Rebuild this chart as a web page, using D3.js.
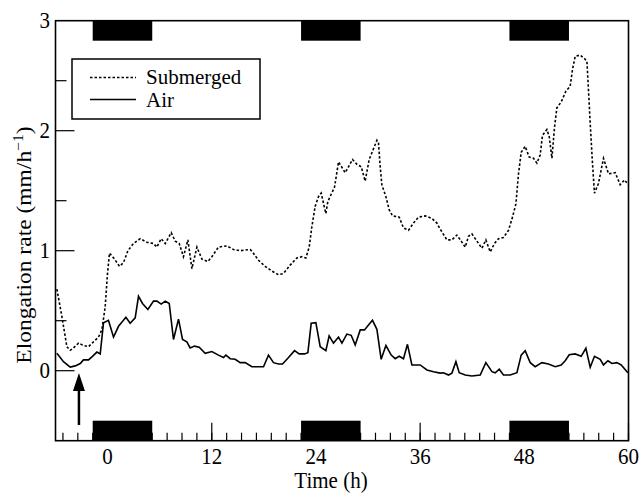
<!DOCTYPE html>
<html lang="en">
  <head>
    <meta charset="utf-8">
    <title>Elongation rate</title>
    <script src="https://d3js.org/d3.v7.min.js"></script>
    <style>
      body { margin: 0; background: white; }
      text { font-family: "Liberation Serif", "Times New Roman", serif; fill: black; }
    </style>
  </head>
  <body>
    <script>
      // time (h) and elongation rate (mm/h)
      const subTime = [-5.84, -5.26, -4.69, -4.31, -3.93, -3.35, -2.78, -2.2, -1.62, -1.05, -0.66, -0.28, -0.01, 0.22, 0.8, 1.37, 1.83, 2.34, 2.98, 3.76,
        4.53, 5.29, 5.68, 6.17, 6.64, 7.33, 7.79, 8.25, 8.74, 9.25, 9.71, 10.29, 10.86, 11.55, 12.01, 12.77, 13.74, 14.5, 15.27, 16.43,
        16.69, 17.38, 18.15, 18.92, 19.69, 20.26, 21.03, 21.8, 22.38, 22.84, 23.22, 23.53, 23.91, 24.29, 24.6, 25.14, 25.37, 26.14, 26.6, 27.37,
        28.21, 28.72, 29.21, 29.67, 30.13, 30.63, 31.02, 31.2, 31.4, 31.59, 32.06, 32.44, 32.82, 33.59, 34.08, 34.66, 35.23, 35.81, 36.58, 37.35,
        37.93, 38.31, 39.08, 39.66, 40.23, 40.73, 41.19, 41.57, 41.96, 42.54, 43.11, 43.57, 44.07, 44.56, 45.03, 45.6, 46.18, 46.64, 47.03, 47.33,
        47.64, 48.1, 48.56, 49.06, 49.45, 49.83, 50.09, 50.6, 50.87, 51.18, 51.48, 51.75, 52.25, 52.79, 53.28, 53.55, 53.86, 54.44, 54.93, 55.21,
        55.39, 55.59, 55.85, 56.08, 56.54, 57.12, 57.7, 58.47, 59.04, 59.54, 59.99];
      const subValues = [0.68, 0.45, 0.2, 0.17, 0.19, 0.23, 0.21, 0.2, 0.24, 0.28, 0.34, 0.53, 0.81, 0.98, 0.93, 0.87, 0.9, 1.0, 1.06, 1.1,
        1.07, 1.06, 1.03, 1.1, 1.06, 1.15, 1.08, 1.06, 0.95, 1.09, 0.85, 1.03, 0.93, 0.91, 0.95, 1.03, 1.04, 1.01, 1.0, 1.01,
        0.99, 0.92, 0.87, 0.83, 0.8, 0.81, 0.88, 0.94, 0.95, 0.94, 1.03, 1.2, 1.37, 1.45, 1.48, 1.31, 1.41, 1.53, 1.74, 1.65,
        1.76, 1.72, 1.7, 1.58, 1.76, 1.85, 1.92, 1.9, 1.7, 1.55, 1.45, 1.34, 1.29, 1.28, 1.19, 1.17, 1.23, 1.28, 1.29, 1.27,
        1.23, 1.18, 1.09, 1.09, 1.13, 1.08, 1.03, 1.12, 1.14, 1.08, 1.02, 1.09, 0.99, 1.06, 1.1, 1.11, 1.17, 1.28, 1.39, 1.64,
        1.82, 1.87, 1.78, 1.77, 1.73, 1.8, 1.96, 2.01, 1.95, 1.77, 2.03, 2.19, 2.24, 2.33, 2.37, 2.51, 2.62, 2.63, 2.6, 2.58,
        2.34, 2.06, 1.73, 1.48, 1.56, 1.77, 1.64, 1.65, 1.55, 1.59, 1.55];

      const airTime = [-5.84, -5.08, -4.31, -3.73, -3.15, -2.78, -2.2, -1.74, -1.23, -0.85, -0.47, 0.1, 0.68, 1.26, 2.11, 2.6, 3.18, 3.56, 4.02, 4.64,
        5.29, 5.68, 6.17, 6.64, 7.1, 7.59, 8.17, 8.63, 9.13, 9.51, 10.01, 10.55, 11.24, 12.01, 12.77, 13.35, 13.63, 14.12, 14.7, 15.27,
        15.85, 16.62, 17.96, 18.53, 19.11, 19.69, 20.15, 20.84, 21.53, 22.07, 22.68, 23.07, 23.45, 23.99, 24.49, 25.14, 25.52, 26.02, 26.6, 26.99,
        27.56, 28.06, 28.52, 29.1, 29.59, 30.05, 30.51, 31.02, 31.51, 32.06, 32.67, 33.13, 33.59, 34.08, 34.54, 35.05, 36.01, 36.78, 37.54, 38.31,
        38.69, 39.27, 39.66, 40.12, 40.5, 41.19, 41.96, 42.92, 43.57, 44.27, 44.65, 45.11, 45.6, 46.37, 47.15, 47.64, 48.1, 48.68, 49.25, 50.02,
        50.78, 51.56, 52.25, 52.71, 53.17, 53.86, 54.55, 55.09, 55.59, 56.08, 56.74, 57.12, 57.63, 58.09, 58.66, 59.16, 59.93];
      const airValues = [0.145, 0.075, 0.03, 0.04, 0.06, 0.09, 0.09, 0.12, 0.155, 0.14, 0.4, 0.42, 0.28, 0.37, 0.445, 0.395, 0.44, 0.62, 0.56, 0.51,
        0.58, 0.58, 0.555, 0.58, 0.56, 0.26, 0.43, 0.26, 0.24, 0.19, 0.205, 0.195, 0.145, 0.16, 0.13, 0.11, 0.13, 0.1, 0.095, 0.067,
        0.067, 0.033, 0.033, 0.13, 0.067, 0.056, 0.056, 0.11, 0.167, 0.14, 0.14, 0.15, 0.395, 0.4, 0.2, 0.167, 0.29, 0.23, 0.28, 0.23,
        0.305, 0.295, 0.215, 0.34, 0.34, 0.38, 0.42, 0.345, 0.095, 0.21, 0.13, 0.1, 0.12, 0.1, 0.22, 0.048, 0.048, 0.006, -0.008, -0.02,
        -0.017, -0.036, -0.02, 0.075, -0.017, -0.036, -0.044, -0.036, 0.067, -0.008, -0.017, 0.012, -0.036, -0.036, -0.017, 0.13, 0.167, 0.067, 0.033, 0.067,
        0.056, 0.033, 0.048, 0.083, 0.133, 0.14, 0.12, 0.187, 0.028, 0.12, 0.095, 0.048, 0.083, 0.06, 0.067, 0.048, -0.017];

      // dark periods (h) shown as black bars
      const darkStart = [-12 / 7, 156 / 7, 324 / 7];
      const darkEnd = [36 / 7, 204 / 7, 372 / 7];

      const xTickValues = [0, 12, 24, 36, 48, 60];
      const yTickValues = [0, 1, 2, 35 / 12];
      const yTickLabels = ["0", "1", "2", "3"];
      const yMinorTicks = [5 / 12, 17 / 12, 29 / 12];
      const arrowTime = -3.3;

      const width = 641;
      const height = 494;
      const plotLeft = 55.5, plotRight = 628.5, plotTop = 20.7, plotBottom = 440.7;
      const stretch = 1.12; // the axis lettering is a little taller than wide

      const x = d3.scaleLinear().domain([-6, 60]).range([plotLeft, plotRight]);
      const y = d3.scaleLinear().domain([-7 / 12, 35 / 12]).range([plotBottom, plotTop]);

      const svg = d3.select("body").append("svg")
                    .attr("width", width)
                    .attr("height", height);

      // dark bars, top and bottom
      const bars = d3.range(darkStart.length);
      [plotTop, plotBottom - 20].forEach(function (by) {
        svg.append("g").selectAll("rect").data(bars).enter().append("rect")
           .attr("x", i => x(darkStart[i]))
           .attr("width", i => x(darkEnd[i]) - x(darkStart[i]))
           .attr("y", by)
           .attr("height", 20)
           .attr("fill", "black");
      });

      // x ticks every 12/7 h
      const xMinor = d3.range(-3, 36).map(k => k * 12 / 7);
      svg.append("g").selectAll("line").data(xMinor).enter().append("line")
         .attr("x1", d => x(d)).attr("x2", d => x(d))
         .attr("y1", plotBottom).attr("y2", plotBottom - 8)
         .attr("stroke", "black").attr("stroke-width", 1.2);
      svg.append("g").selectAll("line").data(xTickValues).enter().append("line")
         .attr("x1", d => x(d)).attr("x2", d => x(d))
         .attr("y1", plotBottom).attr("y2", plotBottom - 18)
         .attr("stroke", "black").attr("stroke-width", 1.2);
      svg.append("g").selectAll("text").data(xTickValues).enter().append("text")
         .attr("transform", d => `translate(${x(d)},464) scale(1,${stretch})`)
         .attr("text-anchor", "middle")
         .style("font-size", "21px")
         .text(d => d);

      // y ticks
      svg.append("g").selectAll("line").data(yMinorTicks).enter().append("line")
         .attr("x1", plotLeft).attr("x2", plotLeft + 11)
         .attr("y1", d => y(d)).attr("y2", d => y(d))
         .attr("stroke", "black").attr("stroke-width", 1.2);
      svg.append("g").selectAll("line").data(yTickValues.slice(0, 3)).enter().append("line")
         .attr("x1", plotLeft).attr("x2", plotLeft + 19)
         .attr("y1", d => y(d)).attr("y2", d => y(d))
         .attr("stroke", "black").attr("stroke-width", 1.2);
      svg.append("g").selectAll("text").data(yTickValues).enter().append("text")
         .attr("transform", d => `translate(50,${y(d) + 7.5}) scale(1,${stretch})`)
         .attr("text-anchor", "end")
         .style("font-size", "21px")
         .text((d, i) => yTickLabels[i]);

      // frame
      svg.append("rect")
         .attr("x", plotLeft).attr("y", plotTop)
         .attr("width", plotRight - plotLeft).attr("height", plotBottom - plotTop)
         .attr("fill", "none").attr("stroke", "black").attr("stroke-width", 1.6);

      // curves
      const line = d3.line().x(d => x(d[0])).y(d => y(d[1]));
      svg.append("path")
         .datum(d3.zip(subTime, subValues))
         .attr("d", line)
         .attr("fill", "none").attr("stroke", "black")
         .attr("stroke-width", 1.6).attr("stroke-dasharray", "2.5,2");
      svg.append("path")
         .datum(d3.zip(airTime, airValues))
         .attr("d", line)
         .attr("fill", "none").attr("stroke", "black")
         .attr("stroke-width", 1.6);

      // arrow
      const ax = x(arrowTime);
      const tipY = y(-0.02);
      svg.append("line")
         .attr("x1", ax).attr("x2", ax)
         .attr("y1", 425).attr("y2", tipY + 14)
         .attr("stroke", "black").attr("stroke-width", 2.5);
      svg.append("path")
         .attr("d", `M${ax},${tipY} L${ax - 6},${tipY + 18} L${ax + 6},${tipY + 18} Z`)
         .attr("fill", "black");

      // legend
      const lg = svg.append("g");
      lg.append("rect")
        .attr("x", 72).attr("y", 59).attr("width", 188).attr("height", 60)
        .attr("fill", "white").attr("stroke", "black").attr("stroke-width", 1.5);
      lg.append("line").attr("x1", 90).attr("x2", 136).attr("y1", 77.5).attr("y2", 77.5)
        .attr("stroke", "black").attr("stroke-width", 1.6).attr("stroke-dasharray", "2.5,2");
      lg.append("line").attr("x1", 90).attr("x2", 136).attr("y1", 99.5).attr("y2", 99.5)
        .attr("stroke", "black").attr("stroke-width", 1.6);
      lg.append("text").attr("x", 146).attr("y", 84)
        .style("font-size", "21px").text("Submerged");
      lg.append("text").attr("x", 146).attr("y", 106.5)
        .style("font-size", "21px").text("Air");

      // axis titles
      svg.append("text")
         .attr("transform", `translate(331,488) scale(1,${stretch})`)
         .attr("text-anchor", "middle")
         .style("font-size", "21px")
         .text("Time (h)");
      const yl = svg.append("text")
         .attr("transform", `translate(31,245) rotate(-90) scale(${stretch},1)`)
         .attr("text-anchor", "middle")
         .style("font-size", "21px");
      yl.append("tspan").text("Elongation rate (mm/h");
      yl.append("tspan").attr("dy", -8).style("font-size", "14px").text("\u22121");
      yl.append("tspan").attr("dy", 8).text(")");
    </script>
  </body>
</html>
